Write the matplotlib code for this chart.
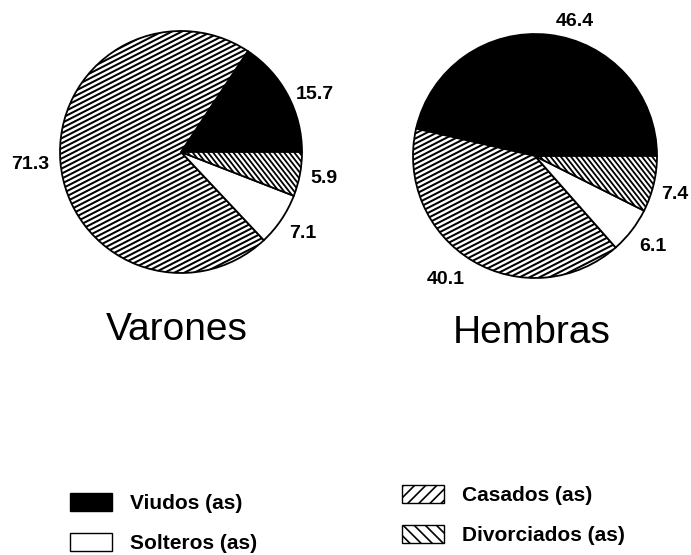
import matplotlib
matplotlib.use('Agg')
import numpy as np
import matplotlib.pyplot as plt
from matplotlib.patches import Patch
from matplotlib.collections import LineCollection

categories = ['Viudos (as)', 'Casados (as)', 'Solteros (as)', 'Divorciados (as)']
varones = [15.7, 71.3, 7.1, 5.9]
hembras = [46.4, 40.1, 6.1, 7.4]
titles = ['Varones', 'Hembras']

colors = ['black', 'white', 'white', 'white']
hatches = [None, '///', None, '\\\\\\']
# pie hatch line styles: (angle in degrees, spacing px, linewidth pt)
pie_hatch = [None, (27, 4.5, 1.45), None, (-52, 4.0, 1.3)]

# label layout (distance in radii, angular nudge in degrees)
label_dist = [[1.2, 1.25, 1.21, 1.2], [1.15, 1.25, 1.22, 1.19]]
label_nudge = [[-5, 0, 0, 0], [-10, -5, 0, -2]]

plt.rcParams['hatch.linewidth'] = 1.2
plt.rcParams['font.family'] = ['Liberation Sans', 'DejaVu Sans']

fig = plt.figure(figsize=(6.91, 5.55), dpi=100)
ax = fig.add_axes([0, 0, 1, 1])

centers = [(181, 555 - 152), (535, 555 - 156)]
radii = [121, 122]
title_pos = [(177, 555 - 340), (532, 555 - 343)]


def line_hatch(wedge, c, r, angle, spacing, lw):
    a = np.deg2rad(angle)
    d = np.array([np.cos(a), np.sin(a)])
    n = np.array([-np.sin(a), np.cos(a)])
    cc = np.array(c, dtype=float)
    segs = []
    for s in np.arange(-1.05 * r, 1.05 * r, spacing):
        p0 = cc + s * n - 1.1 * r * d
        p1 = cc + s * n + 1.1 * r * d
        segs.append([tuple(p0), tuple(p1)])
    lc = LineCollection(segs, colors='black', linewidths=lw, zorder=wedge.get_zorder() + 0.1)
    ax.add_collection(lc)
    lc.set_clip_path(wedge)


for p, (vals, c, r, t, tp) in enumerate(zip([varones, hembras], centers, radii, titles, title_pos)):
    wedges, _ = ax.pie(vals, center=c, radius=r, startangle=0, counterclock=True,
                       colors=colors, frame=True,
                       wedgeprops=dict(edgecolor='black', linewidth=1.3))
    for i, w in enumerate(wedges):
        if pie_hatch[i]:
            line_hatch(w, c, r, *pie_hatch[i])
        theta = np.deg2rad((w.theta1 + w.theta2) / 2 + label_nudge[p][i])
        d = label_dist[p][i] * r
        ax.text(c[0] + d * np.cos(theta), c[1] + d * np.sin(theta), f'{vals[i]:.1f}',
                fontsize=14, fontweight='bold', ha='center', va='center')
    ax.text(tp[0], tp[1], t, fontsize=28, ha='center', va='baseline')

ax.set_xlim(0, 691)
ax.set_ylim(0, 555)
ax.set_aspect('equal')
ax.axis('off')

handles = [Patch(facecolor=colors[i], edgecolor='black', hatch=hatches[i], label=categories[i])
           for i in range(4)]
common = dict(loc='upper left', frameon=False, prop=dict(weight='bold', size=15),
              handlelength=2.0, handleheight=0.96, handletextpad=0.9, labelspacing=0.95,
              borderpad=0, borderaxespad=0)
fig.legend(handles=[handles[0], handles[2]], bbox_to_anchor=(70 / 691, 1 - 493 / 555), **common)
fig.legend(handles=[handles[1], handles[3]], bbox_to_anchor=(402 / 691, 1 - 485 / 555), **common)

fig.savefig('out.png', dpi=100)
